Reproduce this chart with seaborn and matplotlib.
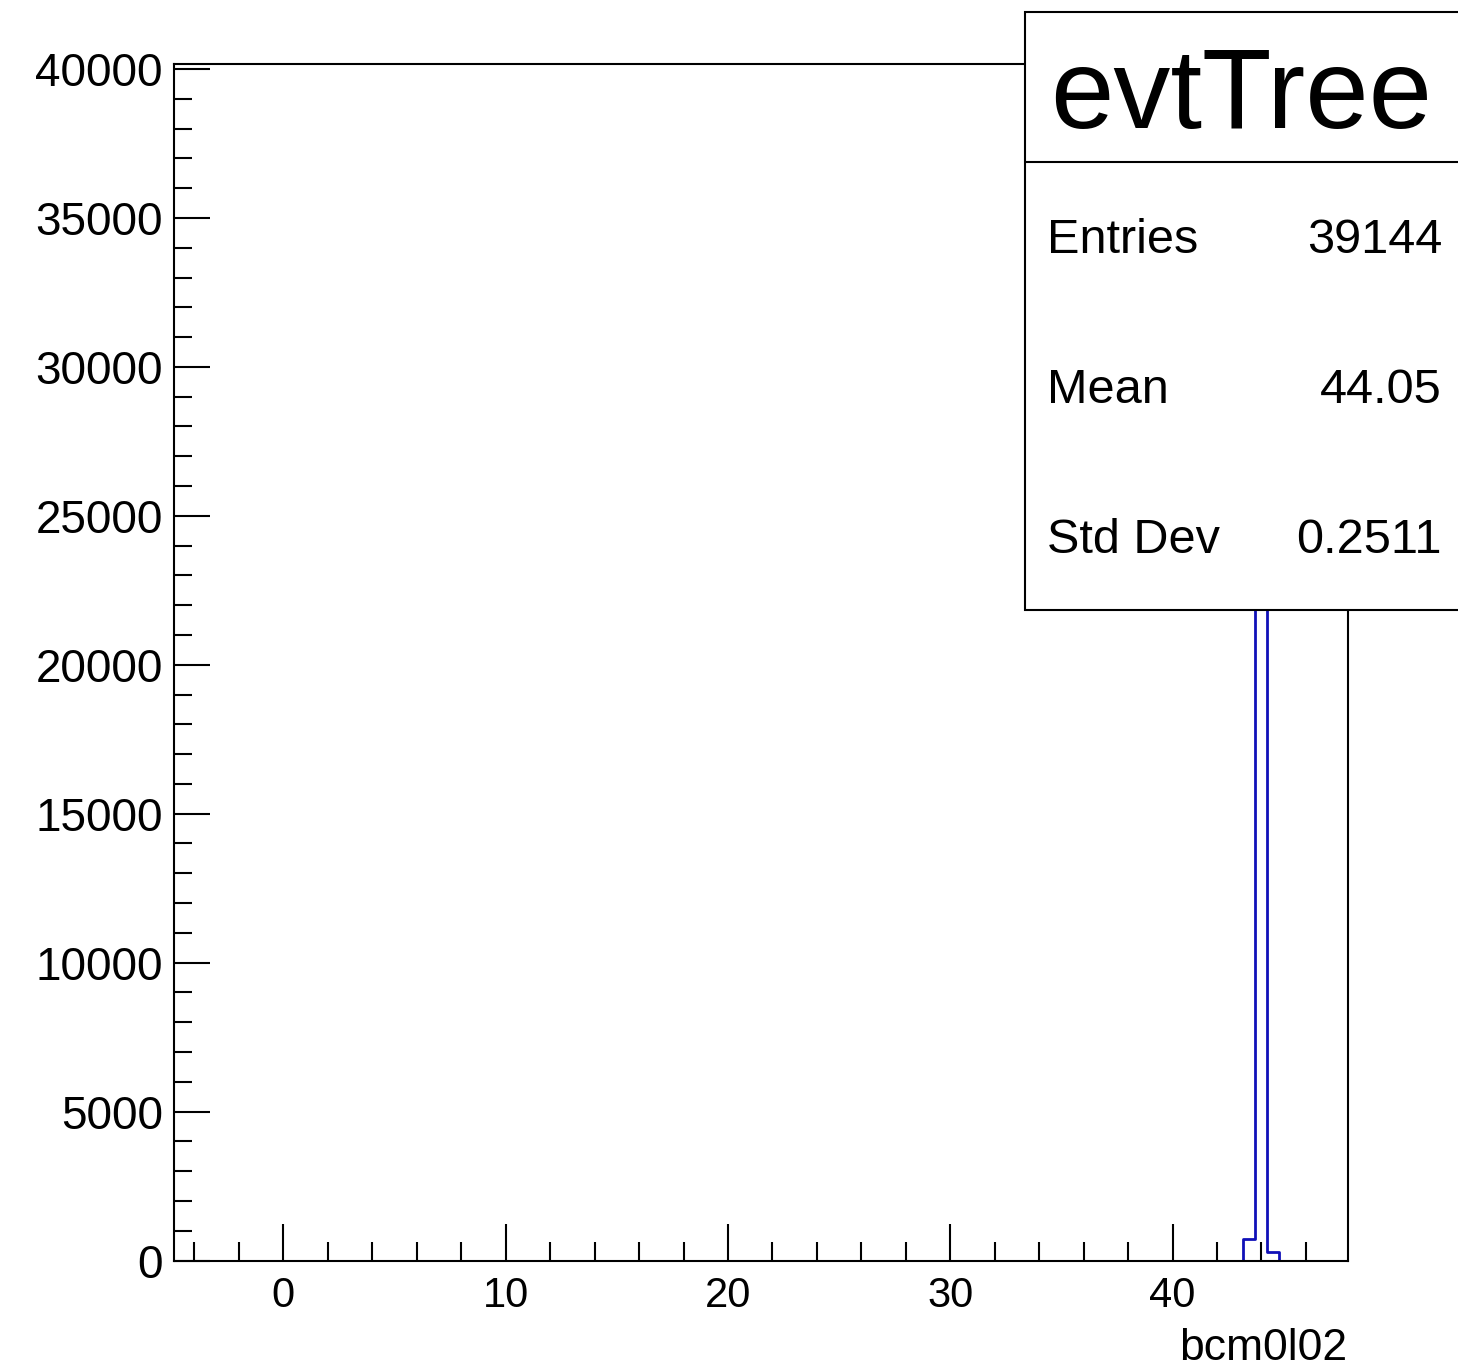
import matplotlib
matplotlib.use("Agg")
import matplotlib.pyplot as plt
from matplotlib.patches import Rectangle
from matplotlib.lines import Line2D
from matplotlib.ticker import MultipleLocator
import seaborn as sns

# histogram of bcm0l02 (the non-empty bins plus one empty bin on each side)
bin_edges = [42.65, 43.18, 43.71, 44.24, 44.77, 45.30]
counts = [0, 713, 38257, 280, 0]

stats_title = "evtTree"
stats_names = ["Entries", "Mean", "Std Dev"]
stats_values = ["39144", "44.05", "0.2511"]
xlabel = "bcm0l02"

sns.set_style("white")
plt.rcParams['font.family'] = ['Liberation Sans', 'DejaVu Sans']
plt.rcParams['text.color'] = 'black'
plt.rcParams['xtick.color'] = 'black'
plt.rcParams['ytick.color'] = 'black'
plt.rcParams['axes.labelcolor'] = 'black'

fig = plt.figure(figsize=(14.58, 13.69), dpi=100)
ax = fig.add_axes([174 / 1458, 1 - 1260.5 / 1369, (1347.5 - 174) / 1458, (1260.5 - 64) / 1369])

centers = [(bin_edges[i] + bin_edges[i + 1]) / 2 for i in range(len(counts))]
sns.histplot(x=centers, weights=counts, bins=bin_edges, element="step", fill=False,
             color="#1010b8", linewidth=2, ax=ax)

ax.set_xlim(-4.92, 47.87)
ax.set_ylim(0, 40170)
ax.xaxis.set_major_locator(MultipleLocator(10))
ax.xaxis.set_minor_locator(MultipleLocator(2))
ax.yaxis.set_major_locator(MultipleLocator(5000))
ax.yaxis.set_minor_locator(MultipleLocator(1000))
ax.tick_params(axis="both", which="both", direction="in", width=1.5, color="black",
               bottom=True, left=True, top=False, right=False)
ax.tick_params(axis="x", which="major", length=27, labelsize=30, pad=11)
ax.tick_params(axis="x", which="minor", length=14)
ax.tick_params(axis="y", which="major", length=26, labelsize=33, pad=8)
ax.tick_params(axis="y", which="minor", length=13)
for s in ax.spines.values():
    s.set_linewidth(1.5)
    s.set_color("black")
ax.set_ylabel("")
ax.set_xlabel(xlabel, fontsize=32, loc="right")
ax.xaxis.set_label_coords(1.0, -0.0564)
ax.xaxis.label.set_va("top")

# stats box
x0 = 1025 / 1458
ytop = 1 - 12 / 1369
ybot = 1 - 610 / 1369
ydiv = 1 - 162 / 1369
fig.add_artist(Rectangle((x0, ybot), 1.05 - x0, ytop - ybot, transform=fig.transFigure,
                         facecolor="white", edgecolor="black", linewidth=1.5, zorder=10))
fig.add_artist(Line2D([x0, 1.0], [ydiv, ydiv], transform=fig.transFigure,
                      color="black", linewidth=1.5, zorder=11))
fig.text(1050 / 1458, 1 - 128 / 1369, stats_title, fontsize=82, ha="left", va="baseline", zorder=12)
for i, (name, val) in enumerate(zip(stats_names, stats_values)):
    yb = 1 - (253 + 150 * i) / 1369
    fig.text(1047 / 1458, yb, name, fontsize=35, ha="left", va="baseline", zorder=12)
    fig.text(1442 / 1458, yb, val, fontsize=35, ha="right", va="baseline", zorder=12)

fig.savefig("out.png", dpi=100)
